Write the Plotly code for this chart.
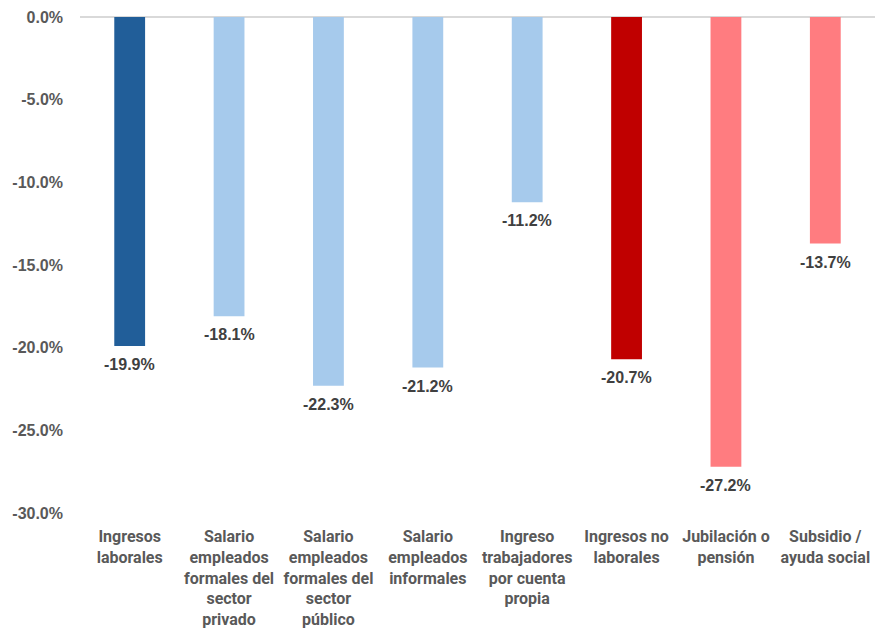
import plotly.graph_objects as go

categories = ["Ingresos laborales",
              "Salario empleados formales del sector privado",
              "Salario empleados formales del sector público",
              "Salario empleados informales",
              "Ingreso trabajadores por cuenta propia",
              "Ingresos no laborales",
              "Jubilación o pensión",
              "Subsidio / ayuda social"]
tick_labels = ["Ingresos<br>laborales",
               "Salario<br>empleados<br>formales del<br>sector<br>privado",
               "Salario<br>empleados<br>formales del<br>sector<br>público",
               "Salario<br>empleados<br>informales",
               "Ingreso<br>trabajadores<br>por cuenta<br>propia",
               "Ingresos no<br>laborales",
               "Jubilación o<br>pensión",
               "Subsidio /<br>ayuda social"]
values = [-19.9, -18.1, -22.3, -21.2, -11.2, -20.7, -27.2, -13.7]
colors = ["#215E99", "#A6CAEC", "#A6CAEC", "#A6CAEC", "#A6CAEC",
          "#C00000", "#FF7C80", "#FF7C80"]
y_ticks = [0, -5, -10, -15, -20, -25, -30]

fig = go.Figure(go.Bar(
    x=categories, y=values,
    marker=dict(color=colors, line=dict(width=0)),
    width=0.31,
    hoverinfo="skip",
))

for c, v in zip(categories, values):
    fig.add_annotation(
        x=c, y=v, text=f"{v:.1f}%", showarrow=False,
        yanchor="top", yshift=-8,
        font=dict(family="Liberation Sans, Arial", size=16, color="#404040", weight="bold"),
    )

fig.update_layout(
    width=875, height=637,
    margin=dict(l=80, r=0, t=17, b=124),
    plot_bgcolor="white", paper_bgcolor="white",
    showlegend=False,
)
fig.update_xaxes(
    tickvals=categories, ticktext=tick_labels,
    tickfont=dict(family="Roboto, Liberation Sans", size=16, color="#595959", weight="bold"),
    showgrid=False, showline=False, ticks="", ticklabelstandoff=12,
)
fig.update_yaxes(
    range=[-30, 0],
    tickvals=y_ticks, ticktext=[f"{v:.1f}%" for v in y_ticks],
    tickfont=dict(family="Liberation Sans, Arial", size=16, color="#595959", weight="bold"),
    showgrid=False, zeroline=True, zerolinecolor="#D9D9D9", zerolinewidth=1.5,
    showline=False, ticks="", ticklabelstandoff=16,
)
fig.write_html("out.html", config={"displayModeBar": False},
               post_script="document.body.style.margin='0';")
